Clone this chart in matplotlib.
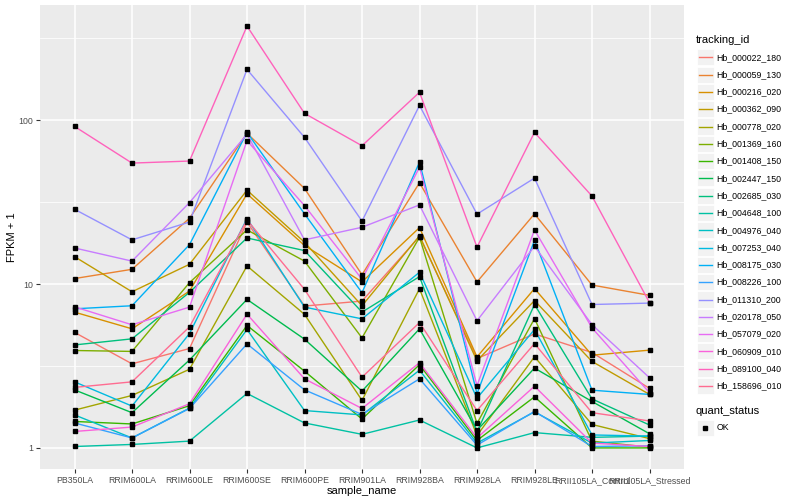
import matplotlib.pyplot as plt
import numpy as np
from matplotlib.patches import Rectangle

plt.rcParams['font.family'] = ['Liberation Sans', 'DejaVu Sans']

# samples on the x axis
samples = ['PB350LA', 'RRIM600LA', 'RRIM600LE', 'RRIM600SE', 'RRIM600PE', 'RRIM901LA',
           'RRIM928BA', 'RRIM928LA', 'RRIM928LE', 'RRII105LA_Control', 'RRII105LA_Stressed']

# FPKM + 1 per gene
hb_000022_180 = [5.07, 3.26, 4.04, 23.9, 7.34, 7.87, 19.5, 3.51, 4.96, 3.82, 2.31]
hb_000059_130 = [10.8, 12.3, 25.2, 83.2, 38.3, 11.4, 41.5, 10.3, 26.8, 9.86, 8.53]
hb_000216_020 = [6.74, 5.33, 9.06, 35.5, 17.2, 10.3, 22.1, 3.59, 9.38, 3.68, 3.95]
hb_000362_090 = [14.7, 8.97, 13.2, 37.4, 18.0, 7.37, 19.7, 3.40, 7.93, 3.37, 2.12]
hb_000778_020 = [1.70, 2.09, 3.02, 12.9, 6.53, 1.95, 9.36, 1.19, 3.60, 1.39, 1.14]
hb_001369_160 = [3.93, 3.88, 10.2, 21.4, 13.8, 4.69, 19.3, 1.41, 6.15, 1.10, 1.01]
hb_001408_150 = [1.45, 1.40, 1.81, 5.59, 2.94, 1.50, 3.22, 1.11, 2.05, 1.00, 1.00]
hb_002447_150 = [2.26, 1.64, 3.44, 8.06, 4.61, 2.22, 5.33, 1.28, 3.07, 1.92, 1.22]
hb_002685_030 = [4.25, 4.63, 8.90, 19.1, 16.0, 6.74, 11.1, 1.25, 7.50, 1.99, 1.38]
hb_004648_100 = [1.02, 1.05, 1.10, 2.15, 1.42, 1.21, 1.48, 1.00, 1.24, 1.16, 1.18]
hb_004976_040 = [1.59, 1.15, 1.75, 5.28, 1.69, 1.59, 2.98, 1.07, 1.66, 1.07, 1.11]
hb_007253_040 = [2.53, 1.80, 4.99, 25.1, 7.23, 6.13, 11.8, 2.01, 5.28, 1.20, 1.18]
hb_008175_030 = [7.06, 7.37, 17.4, 84.2, 26.8, 8.85, 55.5, 2.14, 18.5, 2.25, 2.12]
hb_008226_100 = [1.42, 1.15, 1.74, 4.31, 2.26, 1.60, 2.64, 1.04, 1.67, 1.02, 1.03]
hb_011310_200 = [28.6, 18.6, 23.9, 204, 78.5, 24.2, 123, 26.7, 44.3, 7.50, 7.65]
hb_020178_050 = [16.6, 13.8, 31.4, 82.1, 18.6, 22.2, 30.4, 5.97, 17.0, 5.65, 2.68]
hb_057079_020 = [7.26, 5.64, 7.23, 75.0, 30.1, 10.7, 51.6, 2.40, 21.4, 5.40, 2.17]
hb_060909_010 = [1.26, 1.34, 1.86, 6.55, 2.64, 1.74, 3.31, 1.15, 2.38, 1.07, 1.02]
hb_089100_040 = [91.6, 54.7, 56.3, 375, 110, 69.8, 148, 16.8, 84.2, 34.4, 7.70]
hb_158696_010 = [2.34, 2.53, 5.48, 24.6, 9.28, 2.70, 5.82, 1.69, 4.33, 1.64, 1.46]

tracking_ids = ['Hb_000022_180', 'Hb_000059_130', 'Hb_000216_020', 'Hb_000362_090',
                'Hb_000778_020', 'Hb_001369_160', 'Hb_001408_150', 'Hb_002447_150',
                'Hb_002685_030', 'Hb_004648_100', 'Hb_004976_040', 'Hb_007253_040',
                'Hb_008175_030', 'Hb_008226_100', 'Hb_011310_200', 'Hb_020178_050',
                'Hb_057079_020', 'Hb_060909_010', 'Hb_089100_040', 'Hb_158696_010']
series = [hb_000022_180, hb_000059_130, hb_000216_020, hb_000362_090, hb_000778_020,
          hb_001369_160, hb_001408_150, hb_002447_150, hb_002685_030, hb_004648_100,
          hb_004976_040, hb_007253_040, hb_008175_030, hb_008226_100, hb_011310_200,
          hb_020178_050, hb_057079_020, hb_060909_010, hb_089100_040, hb_158696_010]

# ggplot default hue palette for 20 groups
colors = ['#F8766D', '#EA8331', '#D89000', '#C09B00', '#A3A500', '#7CAE00', '#39B600',
          '#00BB4E', '#00BF7D', '#00C1A3', '#00BFC4', '#00BAE0', '#00B0F6', '#35A2FF',
          '#9590FF', '#C77CFF', '#E76BF3', '#FA62DB', '#FF62BC', '#FF6C91']

fig = plt.figure(figsize=(8, 5), dpi=100)
ax = fig.add_axes([40 / 800, 31 / 500, 644 / 800, 464 / 500])
ax.set_facecolor('#EBEBEB')

x = np.arange(len(samples))
for vals, col in zip(series, colors):
    ax.plot(x, vals, color=col, linewidth=1.0, zorder=3)
for vals in series:
    ax.plot(x, vals, 's', color='black', markersize=2.2, linestyle='none', zorder=4)

# log y axis with ggplot-like 5% padding
ax.set_yscale('log')
allv = np.concatenate([np.array(s) for s in series])
lo, hi = np.log10(allv.min()), np.log10(allv.max())
pad = 0.05 * (hi - lo)
ax.set_ylim(10 ** (lo - pad), 10 ** (hi + pad))
ax.set_xlim(-0.6, len(samples) - 0.4)

ax.set_yticks([1, 10, 100])
ax.set_yticklabels(['1', '10', '100'])
ax.set_yticks([10 ** 0.5, 10 ** 1.5, 10 ** 2.5], minor=True)
ax.yaxis.set_minor_formatter(plt.NullFormatter())
ax.set_xticks(x)
ax.set_xticklabels(samples)

ax.grid(True, which='major', color='white', linewidth=1.1, zorder=0)
ax.grid(True, which='minor', axis='y', color='white', linewidth=0.55, zorder=0)
ax.set_axisbelow(True)
for sp in ax.spines.values():
    sp.set_visible(False)
ax.tick_params(which='major', length=3, width=0.8, color='#333333',
               labelsize=6.3, labelcolor='#4D4D4D', pad=2)
ax.tick_params(which='minor', length=0)

ax.set_xlabel('sample_name', fontsize=8, labelpad=1)
ax.set_ylabel('FPKM + 1', fontsize=8, labelpad=1)

# legends drawn in pixel space
lg = fig.add_axes([0, 0, 1, 1], zorder=5)
lg.set_xlim(0, 800)
lg.set_ylim(500, 0)
lg.axis('off')

lg.text(696, 40, 'tracking_id', fontsize=8, va='center', ha='left')
step = 17.3
for i, (tid, col) in enumerate(zip(tracking_ids, colors)):
    cy = 57.3 + i * step
    lg.add_patch(Rectangle((697, cy - step / 2 + 0.6), 16.6, step - 1.2,
                           facecolor='#F2F2F2', edgecolor='white', linewidth=0.6))
    lg.plot([698.5, 711.5], [cy, cy], color=col, linewidth=1.0)
    lg.text(716.5, cy, tid, fontsize=6.3, va='center', ha='left')

lg.text(696, 411, 'quant_status', fontsize=8, va='center', ha='left')
lg.add_patch(Rectangle((697, 428 - step / 2 + 0.6), 16.6, step - 1.2,
                       facecolor='#F2F2F2', edgecolor='white', linewidth=0.6))
lg.plot([705.3], [428], 's', color='black', markersize=2.2)
lg.text(716.5, 428, 'OK', fontsize=6.3, va='center', ha='left')

fig.savefig('out.png', dpi=100)
